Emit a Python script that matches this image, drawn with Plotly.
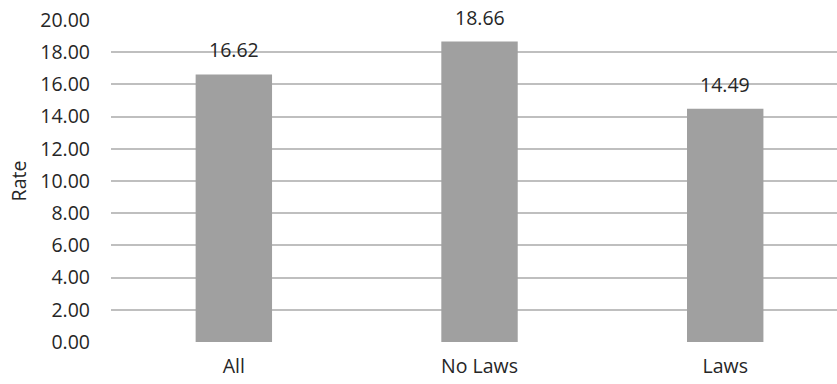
import plotly.graph_objects as go

categories = ["All", "No Laws", "Laws"]
rates = [16.62, 18.66, 14.49]
y_ticks = [0, 2, 4, 6, 8, 10, 12, 14, 16, 18, 20]
y_tick_labels = [f"{v:.2f}" for v in y_ticks]
value_labels = [f"{v:.2f}" for v in rates]

FONT = "Open Sans"
TXT = "#262626"
FS = 19.5

fig = go.Figure()
fig.add_trace(go.Bar(
    x=categories, y=rates, width=0.311,
    marker=dict(color="#A0A0A0", line=dict(width=0)),
    hoverinfo="skip",
))
for c, v, lab in zip(categories, rates, value_labels):
    fig.add_annotation(x=c, y=v, text=lab, showarrow=False,
                       yanchor="bottom", yshift=9,
                       font=dict(family=FONT, size=FS, color=TXT))

fig.update_layout(
    width=837, height=384,
    margin=dict(l=111, r=0, t=20, b=42),
    paper_bgcolor="white", plot_bgcolor="white",
    showlegend=False,
    font=dict(family=FONT, size=FS, color=TXT),
    xaxis=dict(
        type="category", range=[-0.5, 2.455],
        showgrid=False, zeroline=False, showline=False,
        ticks="", ticklabelstandoff=10,
        tickfont=dict(family=FONT, size=FS, color=TXT),
    ),
    yaxis=dict(
        range=[0, 20], tickvals=y_ticks, ticktext=y_tick_labels,
        showgrid=True, gridcolor="#BFBFBF", gridwidth=1.5,
        zeroline=False, showline=False, ticks="",
        ticklabelstandoff=20,
        tickfont=dict(family=FONT, size=FS, color=TXT),
        title=dict(text="Rate", standoff=8,
                   font=dict(family=FONT, size=FS, color=TXT)),
    ),
)
fig.write_html("out.html")
